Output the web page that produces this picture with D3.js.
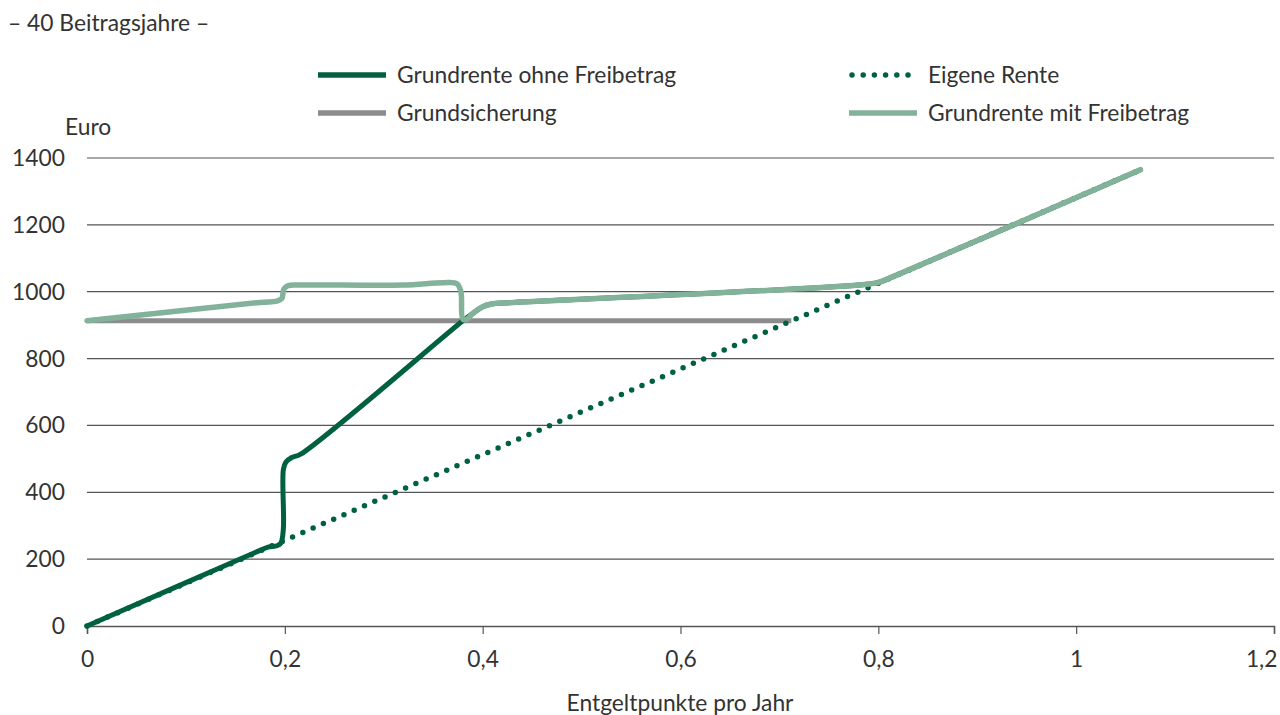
<!DOCTYPE html>
<html><head><meta charset="utf-8">
<script src="https://cdn.jsdelivr.net/npm/d3@7"></script>
<style>
body{margin:0;background:#fff;}
text{font-family:Lato,sans-serif;fill:#333;}
</style></head>
<body><svg id="c" width="1280" height="715"></svg>
<script>
const title = "– 40 Beitragsjahre –";
const yLabel = "Euro";
const xLabel = "Entgeltpunkte pro Jahr";
const xTicks = [0, 0.2, 0.4, 0.6, 0.8, 1, 1.2];
const yTicks = [0, 200, 400, 600, 800, 1000, 1200, 1400];

const eigeneRente = [[0, 0], [1.065, 1365]];
const grundsicherung = [[0, 913], [0.712, 913]];
const ohneFreibetrag = [[0,0],[0.17,220],[0.183,236],[0.192,240],[0.196,248],[0.1985,290],[0.1985,468],[0.201,490],[0.207,504],[0.216,514],[0.38,913],[0.39,935],[0.40,955],[0.41,964],[0.42,966],[0.78,1020],[0.80,1028],[0.815,1045],[1.065,1365]];
const mitFreibetrag = [[0,913],[0.175,968],[0.192,972],[0.197,980],[0.199,1008],[0.203,1018],[0.215,1020],[0.32,1020],[0.36,1027],[0.374,1024],[0.378,1000],[0.380,918],[0.384,918],[0.39,935],[0.40,955],[0.41,964],[0.42,966],[0.78,1020],[0.80,1028],[0.815,1045],[1.065,1365]];

const legendItems = [
  {name:"Grundrente ohne Freibetrag", type:"dark", col:0, row:0},
  {name:"Eigene Rente", type:"dot", col:1, row:0},
  {name:"Grundsicherung", type:"gray", col:0, row:1},
  {name:"Grundrente mit Freibetrag", type:"light", col:1, row:1}
];
const colors = {dark:"#00613f", gray:"#8c8c8f", light:"#82b29a", dot:"#00613f", grid:"#555"};
const FS = 22.8;

const svg = d3.select("#c");
const x = d3.scaleLinear().domain([0,1.2]).range([87,1274]);
const y = d3.scaleLinear().domain([0,1400]).range([626,158]);

// gridlines
svg.append("g").selectAll("line").data(yTicks.filter(d=>d>0)).join("line")
  .attr("x1",x(0)).attr("x2",x(1.2)).attr("y1",d=>y(d)).attr("y2",d=>y(d))
  .attr("stroke","#555").attr("stroke-width",1.2);

// y labels
svg.append("g").selectAll("text").data(yTicks).join("text")
  .attr("x",65).attr("y",d=>y(d)+8).attr("text-anchor","end")
  .attr("font-size",FS).text(d=>d);

// x axis
const xAxis = d3.axisBottom(x).tickValues(xTicks).tickSize(8).tickPadding(17)
  .tickFormat(d=>String(d).replace(".",","));
const gx = svg.append("g").attr("transform",`translate(0,${y(0)})`).call(xAxis);
gx.select(".domain").attr("stroke","#555").attr("stroke-width",1.5);
gx.selectAll(".tick line").attr("stroke","#555").attr("stroke-width",1.2);
gx.selectAll(".tick text").attr("font-size",FS).attr("font-family","Lato").attr("fill","#333")
  .attr("text-anchor",d=>d===1.2?"end":"middle").attr("dx",d=>d===1.2?"3":"0");

svg.append("text").attr("x",680).attr("y",711).attr("text-anchor","middle").attr("font-size",FS).text(xLabel);
svg.append("text").attr("x",65).attr("y",135).attr("font-size",FS).text(yLabel);
svg.append("text").attr("x",8).attr("y",31).attr("font-size",FS).text(title);

const lineGen = d3.line().x(d=>x(d[0])).y(d=>y(d[1])).curve(d3.curveCatmullRom.alpha(0.5));

svg.append("path").attr("d",lineGen(grundsicherung)).attr("fill","none").attr("stroke",colors.gray).attr("stroke-width",5);
svg.append("path").attr("d",lineGen(eigeneRente)).attr("fill","none").attr("stroke",colors.dot).attr("stroke-width",5.5)
  .attr("stroke-dasharray","0 11.2").attr("stroke-linecap","round");
svg.append("path").attr("d",lineGen(ohneFreibetrag)).attr("fill","none").attr("stroke",colors.dark).attr("stroke-width",5).attr("stroke-linejoin","round").attr("stroke-linecap","round");
svg.append("path").attr("d",lineGen(mitFreibetrag)).attr("fill","none").attr("stroke",colors.light).attr("stroke-width",5.5).attr("stroke-linejoin","round").attr("stroke-linecap","round");

// legend
const lg = svg.append("g");
legendItems.forEach(it=>{
  const lx = it.col===0 ? 318 : 849;
  const ly = it.row===0 ? 75 : 113;
  const ln = lg.append("line").attr("x1",lx).attr("x2",lx+68).attr("y1",ly).attr("y2",ly)
    .attr("stroke",colors[it.type]).attr("stroke-width",5.5);
  if(it.type==="dot"){ ln.attr("x1",lx+3).attr("stroke-dasharray","0 11.2").attr("stroke-linecap","round"); }
  lg.append("text").attr("x",lx+79).attr("y",ly+8).attr("font-size",FS).text(it.name);
});
</script></body></html>
